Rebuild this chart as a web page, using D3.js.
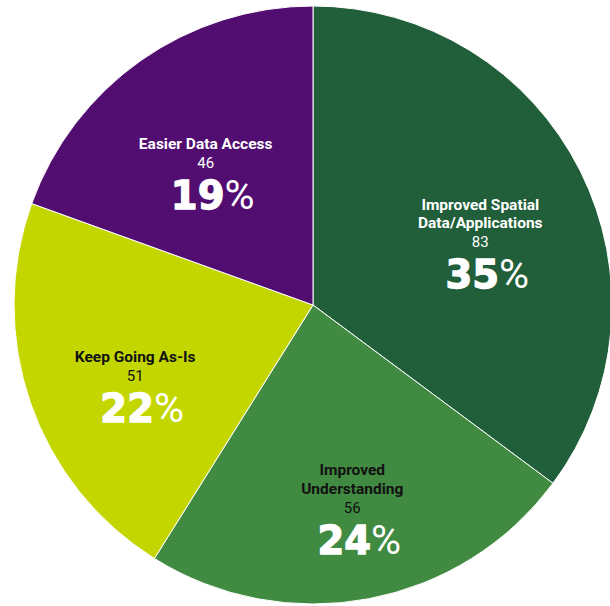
<!DOCTYPE html>
<html>
<head>
<meta charset="utf-8">
<script src="https://cdn.jsdelivr.net/npm/d3@7/dist/d3.min.js"></script>
<style>
  html, body { margin: 0; padding: 0; background: #ffffff; }
  svg { display: block; }
</style>
</head>
<body>
<svg id="chart" width="610" height="606"></svg>
<script>
// ---- data ----
const categories = ["Improved Spatial Data/Applications", "Improved Understanding", "Keep Going As-Is", "Easier Data Access"];
const nameLines = [["Improved Spatial", "Data/Applications"], ["Improved", "Understanding"], ["Keep Going As-Is"], ["Easier Data Access"]];
const values = [83, 56, 51, 46];
const colors = ["#215E3A", "#418A41", "#C4D600", "#510D6F"];
const textColors = ["#ffffff", "#111111", "#111111", "#ffffff"];
// small per-label layout nudges (px) relative to the arc centroid
const labelNudgeX = [2, 5, -3, -1];
const labelNudgeY = [25, 26, 16, 14];

// ---- layout ----
const W = 610, H = 606;
const cx = 313, cy = 305, R = 299;
const svg = d3.select("#chart");
const g = svg.append("g").attr("transform", `translate(${cx},${cy})`);

const total = d3.sum(values);
const pie = d3.pie().sort(null).value(d => d)(values);
const arc = d3.arc().innerRadius(0).outerRadius(R);
const labelArc = d3.arc().innerRadius(185).outerRadius(185);

g.selectAll("path.slice")
  .data(pie)
  .join("path")
  .attr("class", "slice")
  .attr("d", arc)
  .attr("fill", (d, i) => colors[i])
  .attr("stroke", "#ffffff")
  .attr("stroke-width", 1);

const labels = g.selectAll("g.label")
  .data(pie)
  .join("g")
  .attr("class", "label")
  .attr("transform", (d, i) => {
    const [x, y] = labelArc.centroid(d);
    return `translate(${x + labelNudgeX[i]},${y + labelNudgeY[i]})`;
  });

labels.each(function(d, i) {
  const sel = d3.select(this);
  const lines = nameLines[i];
  const lh = 18.4;
  lines.forEach((ln, k) => {
    sel.append("text")
      .attr("x", 0)
      .attr("y", -19 - (lines.length - 1 - k) * lh)
      .attr("text-anchor", "middle")
      .attr("font-family", "Roboto, sans-serif")
      .attr("font-weight", 700)
      .attr("font-size", 15.5)
      .attr("fill", textColors[i])
      .text(ln);
  });
  sel.append("text")
    .attr("x", 0)
    .attr("y", 0)
    .attr("text-anchor", "middle")
    .attr("font-family", "Roboto, sans-serif")
    .attr("font-weight", 400)
    .attr("font-size", 15)
    .attr("fill", textColors[i])
    .text(values[i]);
  const pct = Math.round(values[i] / total * 100);
  const t = sel.append("text")
    .attr("x", 7)
    .attr("y", 41)
    .attr("text-anchor", "middle")
    .attr("fill", "#ffffff");
  t.append("tspan")
    .attr("font-family", "'DejaVu Sans', sans-serif")
    .attr("font-weight", 700)
    .attr("font-size", 38.5)
    .attr("stroke", "#ffffff")
    .attr("stroke-width", 1.3)
    .text(pct);
  t.append("tspan")
    .attr("font-family", "Roboto, sans-serif")
    .attr("font-weight", 400)
    .attr("font-size", 41)
    .text("%");
});
</script>
</body>
</html>
